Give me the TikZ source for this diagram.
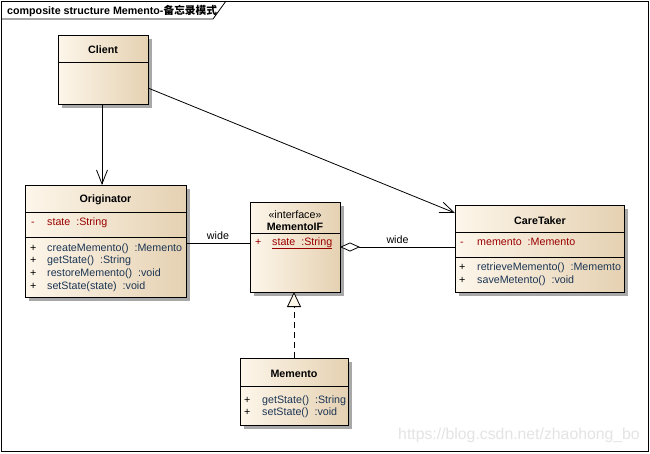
\documentclass[tikz,border=0pt]{standalone}
\usepackage{fontspec}
\setmainfont{Liberation Sans}
\newfontfamily\cjk{Noto Sans CJK SC}
\usetikzlibrary{arrows.meta,shadows}
\definecolor{cream}{HTML}{FDF6EA}
\definecolor{tanc}{HTML}{E5D1B2}
\definecolor{attrc}{HTML}{990000}
\definecolor{methc}{HTML}{1C3554}
\definecolor{shadowc}{HTML}{A8A8A8}
\definecolor{wmark}{HTML}{E4E4E4}
\begin{document}
\begin{tikzpicture}[x=1pt,y=-1pt,
  font=\fontsize{10.7}{12}\selectfont,
  umlbox/.style={draw=black, line width=0.9pt, left color=cream, right color=tanc,
    general shadow={fill=shadowc, shadow xshift=4pt, shadow yshift=-4pt},
    anchor=north west, inner sep=0pt, outer sep=0pt},
  txt/.style={inner sep=0pt, text height=8pt, text depth=2pt},
  ttl/.style={txt, font=\fontsize{10.7}{12}\selectfont\bfseries},
  attr/.style={txt, anchor=west, text=attrc},
  meth/.style={txt, anchor=west, text=methc},
  sign/.style={txt, anchor=west, text=#1},
  divider/.style={line width=0.9pt},
  conn/.style={line width=0.8pt, draw=black},
  openarrow/.style={-{Straight Barb[length=14pt,width=11pt]}},
  lbl/.style={txt, text=black}
]
\useasboundingbox (0,0) rectangle (650,453);
\fill[white] (0,0) rectangle (650,453);

% frame
\draw[line width=0.8pt] (1,1) rectangle (648,451);
\draw[line width=0.8pt] (1,19) -- (213,19) -- (226,1);
\node[anchor=west, inner sep=0pt, font=\fontsize{10.7}{12}\selectfont\bfseries] (title) at (7,10.5) {composite structure Memento-{\cjk 备忘录模式}};

% boxes
\node[umlbox, minimum width=90pt, minimum height=69pt] (client) at (58,35) {};
\node[umlbox, minimum width=161pt, minimum height=112pt] (orig) at (25,185) {};
\node[umlbox, minimum width=90pt, minimum height=90pt] (mif) at (250,202) {};
\node[umlbox, minimum width=169pt, minimum height=87pt] (care) at (455,205) {};
\node[umlbox, minimum width=108pt, minimum height=67pt] (mem) at (240,358) {};

% dividers
\draw[divider] ([yshift=-27pt]client.north west) -- ([yshift=-27pt]client.north east);
\draw[divider] ([yshift=-27pt]orig.north west) -- ([yshift=-27pt]orig.north east);
\draw[divider] ([yshift=-52pt]orig.north west) -- ([yshift=-52pt]orig.north east);
\draw[divider] ([yshift=-31pt]mif.north west) -- ([yshift=-31pt]mif.north east);
\draw[divider] ([yshift=-27pt]care.north west) -- ([yshift=-27pt]care.north east);
\draw[divider] ([yshift=-52pt]care.north west) -- ([yshift=-52pt]care.north east);
\draw[divider] ([yshift=-28pt]mem.north west) -- ([yshift=-28pt]mem.north east);

% Client
\node[ttl] (clientT) at (103,50) {Client};

% Originator
\node[ttl] (origT) at (105.5,199) {Originator};
\node[sign=attrc] (o0s) at (31,222) {-};
\node[attr] (o0) at (47,222) {state~~:String};
\node[sign=black] (o1s) at (30,248) {+};
\node[meth] (o1) at (47,248) {createMemento()~~:Memento};
\node[sign=black] (o2s) at (30,260.7) {+};
\node[meth] (o2) at (47,260.7) {getState()~~:String};
\node[sign=black] (o3s) at (30,273.3) {+};
\node[meth] (o3) at (47,273.3) {restoreMemento()~~:void};
\node[sign=black] (o4s) at (30,286) {+};
\node[meth] (o4) at (47,286) {setState(state)~~:void};

% MementoIF
\node[txt] (mifS) at (295,215) {«interface»};
\node[ttl] (mifT) at (295,227.5) {MementoIF};
\node[sign=attrc] (m0s) at (255,242) {+};
\node[attr] (m0) at (272,242) {\underline{state~~:String}};

% CareTaker
\node[ttl] (careT) at (540,221) {CareTaker};
\node[sign=attrc] (c0s) at (460,242) {-};
\node[attr] (c0) at (477,242) {memento~~:Memento};
\node[sign=black] (c1s) at (459,267) {+};
\node[meth] (c1) at (477,267) {retrieveMemento()~~:Mememto};
\node[sign=black] (c2s) at (459,280.5) {+};
\node[meth] (c2) at (477,280.5) {saveMetento()~~:void};

% Memento
\node[ttl] (memT) at (294,374) {Memento};
\node[sign=black] (e1s) at (244,400) {+};
\node[meth] (e1) at (262,400) {getState()~~:String};
\node[sign=black] (e2s) at (244,412.5) {+};
\node[meth] (e2) at (262,412.5) {setState()~~:void};

% connectors
\draw[conn, openarrow] ([xshift=-1pt]client.south) -- ([xshift=-1pt]client.south |- orig.north);
\draw[conn, openarrow] ([yshift=16pt]client.south east) -- ([yshift=-8pt]care.north west);
\draw[conn] ([yshift=-2pt]orig.east) -- node[lbl, above=1.5pt, pos=0.5] (w1) {wide} ([yshift=4pt]mif.west);
\draw[conn, -{Diamond[length=20pt,width=9pt,fill=white,line width=0.8pt]}] ([yshift=1.5pt]care.west) -- node[lbl, above=1.5pt, pos=0.5] (w2) {wide} (mif.east);
\draw[conn, dash pattern=on 6pt off 4pt, -{Triangle[length=15pt,width=14pt,fill=cream,line width=0.8pt]}] (mem.north) -- (mem.north |- mif.south);

% watermark
\node[anchor=east, inner sep=0pt, text=wmark, font=\fontsize{15.8}{17}\selectfont] (wm) at (640,435) {https://blog.csdn.net/zhaohong\_bo};
\end{tikzpicture}
\end{document}
